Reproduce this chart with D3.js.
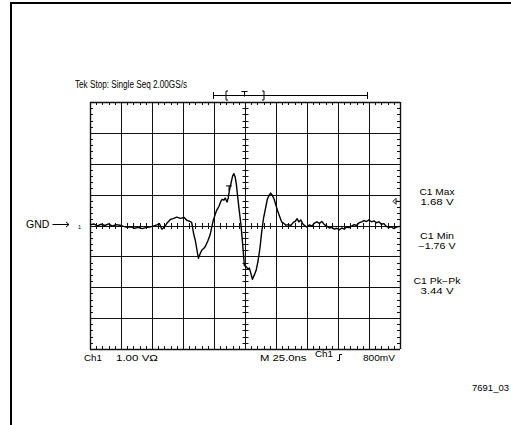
<!DOCTYPE html>
<html>
<head>
<meta charset="utf-8">
<script src="https://cdn.jsdelivr.net/npm/d3@7"></script>
<style>
body { margin: 0; background: #fff; }
text { font-family: "Liberation Sans", Arial, sans-serif; fill: #000; }
</style>
</head>
<body>
<svg id="scope" width="511" height="425"></svg>
<script>
// trace: time in ns (25 ns/div), volts (1 V/div)
var timeNs = [-125,-122,-119,-116,-113,-110,-107,-104,-101,-98,-95,-92,-89,-86,-83,-80,-77,-74,-71,-69,-67,-65,-63,-60,-57,-55,-52,-49,-47,-45,-43,-41.5,-40,-38.5,-37.6,-36,-34.9,-33,-32,-30,-28.2,-26.8,-25.5,-24,-22.8,-21,-19.5,-18.5,-17,-16,-14.5,-13.5,-12.5,-11,-10,-9,-8,-7,-6.2,-4.7,-3.2,-1.8,-0.5,1,2.5,3.5,4.5,6,7.5,9,10.5,12,13.5,15,16.5,18,19.5,20.7,22,23.5,25,26.5,28,29.5,31,33,35,37,39,40.5,42,43.5,45,46.5,48,50,52,54,56,58,60,62,64,66,68,70,72,74,76,78,80,82,84,86,88,90,92,94,96,98,100,102,104,106,108,110,112,114,116,118,120,122,125];
var volts = [0.02,0.05,-0.01,0.04,0,0.05,-0.02,0.03,0.01,-0.03,-0.06,-0.04,-0.09,-0.06,-0.1,-0.07,-0.05,-0.02,0.02,0.06,-0.12,-0.05,0.07,0.2,0.24,0.27,0.23,0.26,0.17,0.14,0.1,-0.25,-0.5,-0.85,-1.06,-0.9,-0.8,-0.73,-0.68,-0.5,-0.31,-0.05,0.18,0.36,0.5,0.62,0.78,0.85,0.82,0.89,0.76,0.9,1.15,1.42,1.6,1.68,1.58,1.35,1.04,0.5,0,-0.65,-1.3,-1.33,-1.42,-1.38,-1.52,-1.74,-1.6,-1.45,-1.15,-0.75,-0.2,0.25,0.55,0.85,0.98,1.05,0.98,0.85,0.65,0.45,0.28,0.12,0.08,0.01,0.03,0,0.1,0.13,0.22,0.12,0.18,0.06,0,-0.05,0.02,-0.02,0.08,0.12,0.07,0.13,0.03,-0.02,-0.08,-0.06,-0.12,-0.09,-0.14,-0.08,-0.12,-0.05,-0.07,-0.02,0.03,0,0.09,0.12,0.16,0.13,0.18,0.12,0.15,0.09,0.12,0.04,0.06,-0.03,-0.07,-0.04,-0.1,-0.05,-0.03];

var measureNames = ["C1 Max", "C1 Min", "C1 Pk\u2212Pk"];
var measureValues = ["1.68 V", "\u22121.76 V", "3.44 V"];
var headerText = "Tek Stop: Single Seq  2.00GS/s";

var svg = d3.select("#scope");

var x = d3.scaleLinear().domain([-125, 125]).range([90, 400]);
var y = d3.scaleLinear().domain([-4, 4]).range([349, 102]);

// page frame
svg.append("path")
	.attr("d", "M11,425V3H511")
	.attr("fill", "none")
	.attr("stroke", "#000")
	.attr("stroke-width", 2);

var g = svg.append("g");

// graticule
var xDiv = d3.range(-125, 126, 25),
	yDiv = d3.range(-4, 5, 1);

g.selectAll("line.vdiv").data(xDiv).enter().append("line")
	.attr("x1", function(d) { return Math.round(x(d)) + 0.5; })
	.attr("x2", function(d) { return Math.round(x(d)) + 0.5; })
	.attr("y1", y(4)).attr("y2", y(-4))
	.attr("stroke", "#111").attr("stroke-width", function(d) { return Math.abs(d) == 125 ? 1.4 : 1; });

g.selectAll("line.hdiv").data(yDiv).enter().append("line")
	.attr("y1", function(d) { return Math.round(y(d)) + 0.5; })
	.attr("y2", function(d) { return Math.round(y(d)) + 0.5; })
	.attr("x1", x(-125)).attr("x2", x(125))
	.attr("stroke", "#111").attr("stroke-width", function(d) { return Math.abs(d) == 4 ? 1.4 : 1; });

// minor ticks, 5 per division
var xMinor = d3.range(-125, 125.1, 5),
	yMinor = d3.range(-4, 4.01, 0.2);

var ticks = [];
xMinor.forEach(function(t) {
	var px = Math.round(x(t)) + 0.5;
	ticks.push([px, y(4), px, y(4) + 3]);
	ticks.push([px, y(-4), px, y(-4) - 3]);
	ticks.push([px, y(0) - 2.5, px, y(0) + 3.5]);
});
yMinor.forEach(function(v) {
	var py = Math.round(y(v)) + 0.5;
	ticks.push([x(-125), py, x(-125) + 3, py]);
	ticks.push([x(125), py, x(125) - 3, py]);
	ticks.push([x(0) - 2.5, py, x(0) + 3.5, py]);
});
g.selectAll("line.minor").data(ticks).enter().append("line")
	.attr("x1", function(d) { return d[0]; })
	.attr("y1", function(d) { return d[1]; })
	.attr("x2", function(d) { return d[2]; })
	.attr("y2", function(d) { return d[3]; })
	.attr("stroke", "#111").attr("stroke-width", 1);

// waveform
var pts = timeNs.map(function(t, i) { return [t, volts[i]]; });
var line = d3.line()
	.x(function(d) { return x(d[0]); })
	.y(function(d) { return y(d[1]); });

g.append("path")
	.datum(pts)
	.attr("d", line)
	.attr("fill", "none")
	.attr("stroke", "#000")
	.attr("stroke-width", 1.4)
	.attr("stroke-linejoin", "round");

// header and trigger position bar
svg.append("text")
	.attr("x", 75).attr("y", 87.5)
	.attr("font-size", 10)
	.attr("textLength", 112).attr("lengthAdjust", "spacingAndGlyphs")
	.text(headerText);

var barY = 95;
var bar = svg.append("g").attr("stroke", "#000").attr("fill", "none").attr("stroke-width", 1);
bar.append("line").attr("x1", 213.5).attr("x2", 367.5).attr("y1", barY + 0.5).attr("y2", barY + 0.5);
bar.append("line").attr("x1", 213.5).attr("x2", 213.5).attr("y1", barY - 3).attr("y2", barY + 4);
bar.append("line").attr("x1", 367.5).attr("x2", 367.5).attr("y1", barY - 3).attr("y2", barY + 4);
bar.append("path").attr("d", "M228," + (barY - 4) + "h-2v9h2");
bar.append("path").attr("d", "M262," + (barY - 4) + "h2v9h-2");
bar.append("path").attr("d", "M241.5," + (barY - 3.5) + "h6M244.5," + (barY - 3.5) + "v5");

// trigger level marker on trace
svg.append("path")
	.attr("d", "M226," + (y(1.3) + 0.5) + "h6M229," + (y(1.3) + 0.5) + "v5")
	.attr("stroke", "#000").attr("fill", "none");

// right edge level pointer
svg.append("path")
	.attr("d", "M393," + (y(0.8) + 0.5) + "l3,-3v6z M396," + (y(0.8) + 0.5) + "h3")
	.attr("stroke", "#000").attr("fill", "none").attr("stroke-width", 0.9);

// ground reference
svg.append("text")
	.attr("x", 26).attr("y", 228)
	.attr("font-size", 10.5)
	.text("GND");
svg.append("path")
	.attr("d", "M52.5,224.5H69M66,222l3,2.5l-3,2.5")
	.attr("stroke", "#000").attr("fill", "none").attr("stroke-width", 1);
svg.append("text")
	.attr("x", 78).attr("y", 228.5)
	.attr("font-size", 5.5)
	.text("1");

// measurements
var mx = 437;
measureNames.forEach(function(name, i) {
	var base = [194.5, 239, 284][i];
	svg.append("text").attr("x", mx).attr("y", base)
		.attr("text-anchor", "middle").attr("font-size", 8.5)
		.attr("textLength", [35, 34, 47][i]).attr("lengthAdjust", "spacingAndGlyphs")
		.text(name);
	svg.append("text").attr("x", mx).attr("y", base + 10)
		.attr("text-anchor", "middle").attr("font-size", 8.5)
		.attr("textLength", [33, 37, 33][i]).attr("lengthAdjust", "spacingAndGlyphs")
		.text(measureValues[i]);
});

// bottom readout
var bottom = [
	{ t: "Ch1", x: 84, y: 361, w: 18 },
	{ t: "1.00 V\u03A9", x: 116, y: 361, w: 42 },
	{ t: "M 25.0ns", x: 260, y: 361, w: 46.5 },
	{ t: "Ch1", x: 315, y: 356.5, w: 18 },
	{ t: "800mV", x: 363, y: 361, w: 32 }
];
svg.selectAll("text.bottom").data(bottom).enter().append("text")
	.attr("x", function(d) { return d.x; })
	.attr("y", function(d) { return d.y; })
	.attr("font-size", 9.5)
	.attr("textLength", function(d) { return d.w; })
	.attr("lengthAdjust", "spacingAndGlyphs")
	.text(function(d) { return d.t; });

// rising edge symbol
svg.append("path")
	.attr("d", "M337,360.5h2.5v-6h2.5")
	.attr("stroke", "#000").attr("fill", "none").attr("stroke-width", 1);

svg.append("text")
	.attr("x", 472).attr("y", 391)
	.attr("font-size", 9.5)
	.text("7691_03");
</script>
</body>
</html>
